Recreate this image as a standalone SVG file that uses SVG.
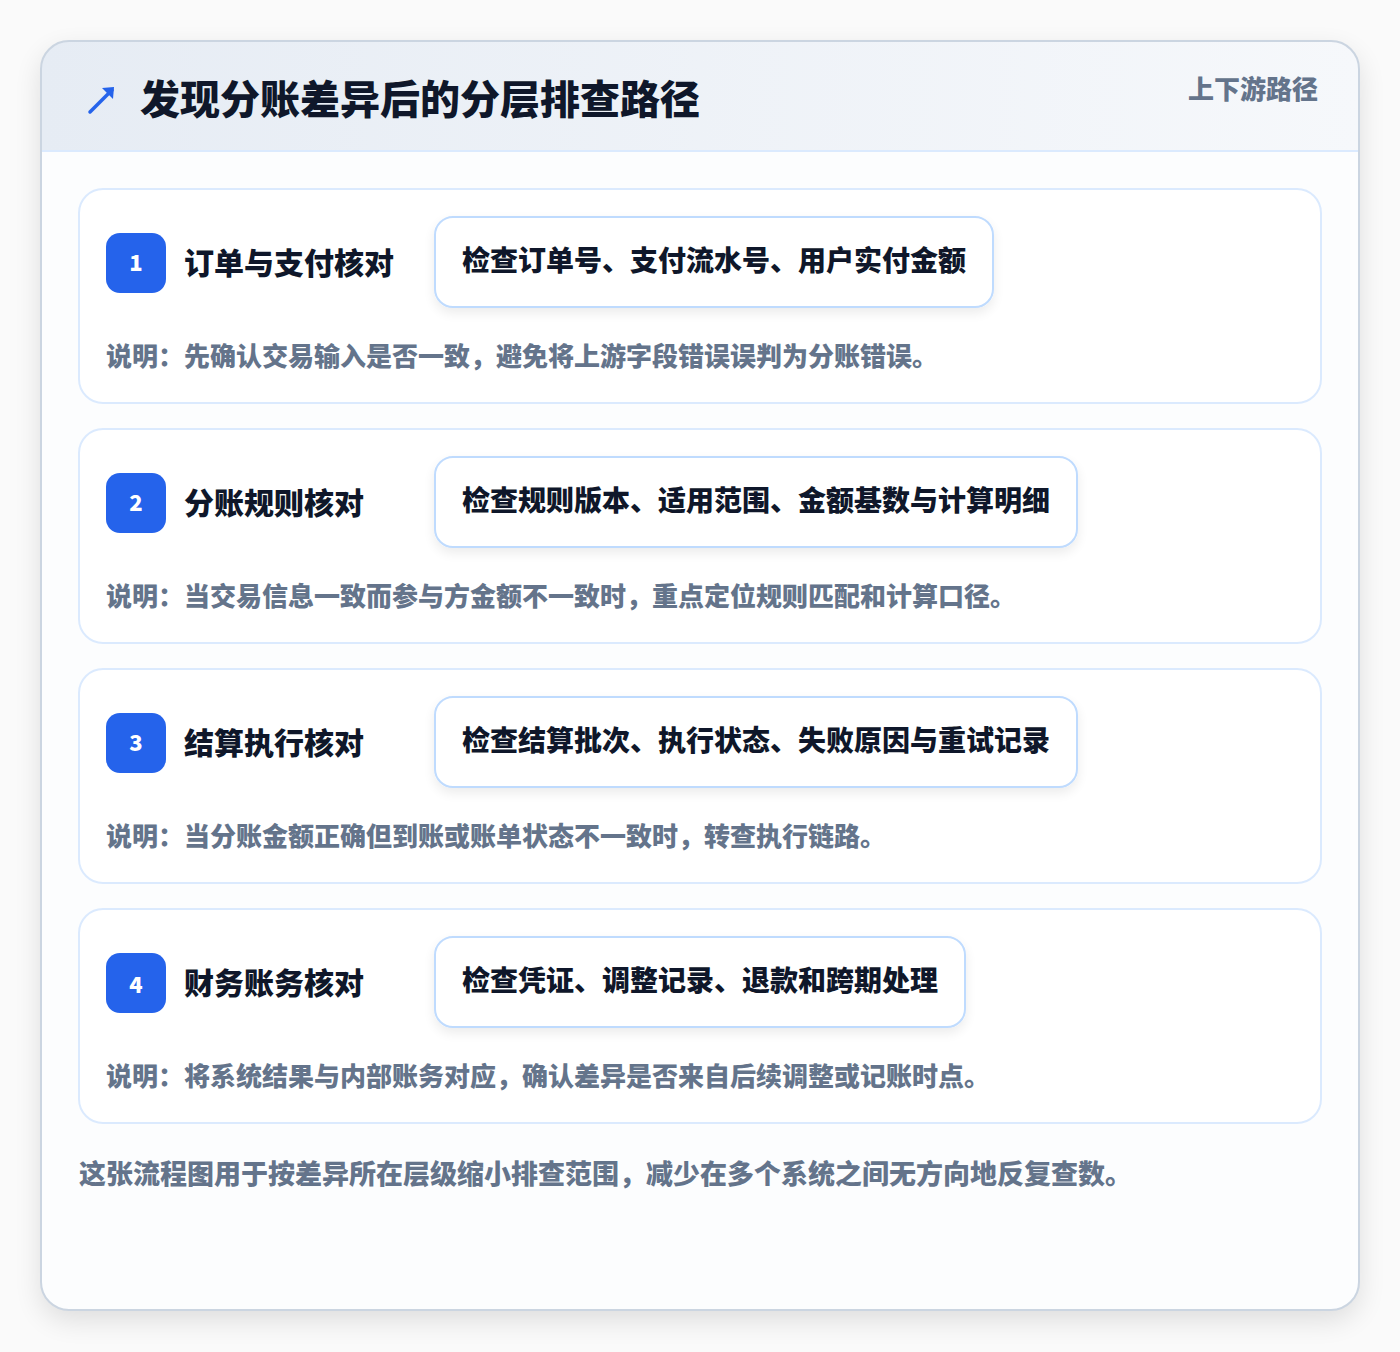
<svg xmlns="http://www.w3.org/2000/svg" width="1400" height="1352" viewBox="0 0 1400 1352">
<style>
text{font-family:"Noto Sans CJK SC","Noto Sans",sans-serif;font-weight:900}
.title{font-size:40px;fill:#0f172a}
.tag{font-size:26px;fill:#64748b}
.step{font-size:30px;fill:#0f172a}
.num{font-size:22px;fill:#ffffff;text-anchor:middle}
.chk{font-size:28px;fill:#0f172a}
.desc{font-size:26px;fill:#64748b}
.foot{font-size:27px;fill:#64748b}
.card{fill:#ffffff;stroke:#dbeafe;stroke-width:2}
.box{fill:#ffffff;stroke:#bfdbfe;stroke-width:2}
.badge{fill:#2563eb}
</style>
<defs>
<filter id="sh" x="-10%" y="-10%" width="120%" height="125%">
<feGaussianBlur in="SourceAlpha" stdDeviation="14"/>
<feOffset dy="10"/>
<feComponentTransfer><feFuncA type="linear" slope="0.12"/></feComponentTransfer>
<feMerge><feMergeNode/><feMergeNode in="SourceGraphic"/></feMerge>
</filter>
<filter id="bsh" x="-10%" y="-20%" width="120%" height="150%">
<feGaussianBlur in="SourceAlpha" stdDeviation="6"/>
<feOffset dy="5"/>
<feComponentTransfer><feFuncA type="linear" slope="0.08"/></feComponentTransfer>
<feMerge><feMergeNode/><feMergeNode in="SourceGraphic"/></feMerge>
</filter>
<linearGradient id="hg" x1="0" y1="0" x2="1" y2="0">
<stop offset="0" stop-color="#e6ecf4"/>
<stop offset="1" stop-color="#f6f8fb"/>
</linearGradient>
<clipPath id="oc"><rect x="41" y="41" width="1318" height="1269" rx="28"/></clipPath>
</defs>
<rect width="1400" height="1352" fill="#fafafa"/>
<g id="frame">
<rect x="41" y="41" width="1318" height="1269" rx="28" fill="#ffffff" filter="url(#sh)"/>
<g clip-path="url(#oc)">
<rect x="41" y="41" width="1318" height="110" fill="url(#hg)"/>
<rect x="41" y="151" width="1318" height="1160" fill="#fcfdfe"/>
<line x1="41" y1="151" x2="1359" y2="151" stroke="#dbeafe" stroke-width="2"/>
</g>
<rect x="41" y="41" width="1318" height="1269" rx="28" fill="none" stroke="#cbd5e1" stroke-width="2"/>
</g>
<g id="header">
<path d="M90 112 L112 90" stroke="#2563eb" stroke-width="3.5" stroke-linecap="round"/>
<path d="M102 88 L114 87 L113 99 Z" fill="#2563eb"/>
<text class="title" x="140" y="114">发现分账差异后的分层排查路径</text>
<text class="tag" x="1318" y="99" text-anchor="end">上下游路径</text>
</g>
<g id="step1">
<rect class="card" x="79" y="189" width="1242" height="214" rx="24"/>
<rect class="badge" x="106" y="233" width="60" height="60" rx="14"/>
<text class="num" x="136" y="271">1</text>
<text class="step" x="184" y="274">订单与支付核对</text>
<rect class="box" x="435" y="217" width="558" height="90" rx="18" filter="url(#bsh)"/>
<text class="chk" x="462" y="271">检查订单号、支付流水号、用户实付金额</text>
<text class="desc" x="106" y="366">说明：先确认交易输入是否一致，避免将上游字段错误误判为分账错误。</text>
</g>
<g id="step2">
<rect class="card" x="79" y="429" width="1242" height="214" rx="24"/>
<rect class="badge" x="106" y="473" width="60" height="60" rx="14"/>
<text class="num" x="136" y="511">2</text>
<text class="step" x="184" y="514">分账规则核对</text>
<rect class="box" x="435" y="457" width="642" height="90" rx="18" filter="url(#bsh)"/>
<text class="chk" x="462" y="511">检查规则版本、适用范围、金额基数与计算明细</text>
<text class="desc" x="106" y="606">说明：当交易信息一致而参与方金额不一致时，重点定位规则匹配和计算口径。</text>
</g>
<g id="step3">
<rect class="card" x="79" y="669" width="1242" height="214" rx="24"/>
<rect class="badge" x="106" y="713" width="60" height="60" rx="14"/>
<text class="num" x="136" y="751">3</text>
<text class="step" x="184" y="754">结算执行核对</text>
<rect class="box" x="435" y="697" width="642" height="90" rx="18" filter="url(#bsh)"/>
<text class="chk" x="462" y="751">检查结算批次、执行状态、失败原因与重试记录</text>
<text class="desc" x="106" y="846">说明：当分账金额正确但到账或账单状态不一致时，转查执行链路。</text>
</g>
<g id="step4">
<rect class="card" x="79" y="909" width="1242" height="214" rx="24"/>
<rect class="badge" x="106" y="953" width="60" height="60" rx="14"/>
<text class="num" x="136" y="993">4</text>
<text class="step" x="184" y="994">财务账务核对</text>
<rect class="box" x="435" y="937" width="530" height="90" rx="18" filter="url(#bsh)"/>
<text class="chk" x="462" y="991">检查凭证、调整记录、退款和跨期处理</text>
<text class="desc" x="106" y="1086">说明：将系统结果与内部账务对应，确认差异是否来自后续调整或记账时点。</text>
</g>
<g id="connectors"></g>
<text class="foot" x="79" y="1184">这张流程图用于按差异所在层级缩小排查范围，减少在多个系统之间无方向地反复查数。</text>
</svg>
